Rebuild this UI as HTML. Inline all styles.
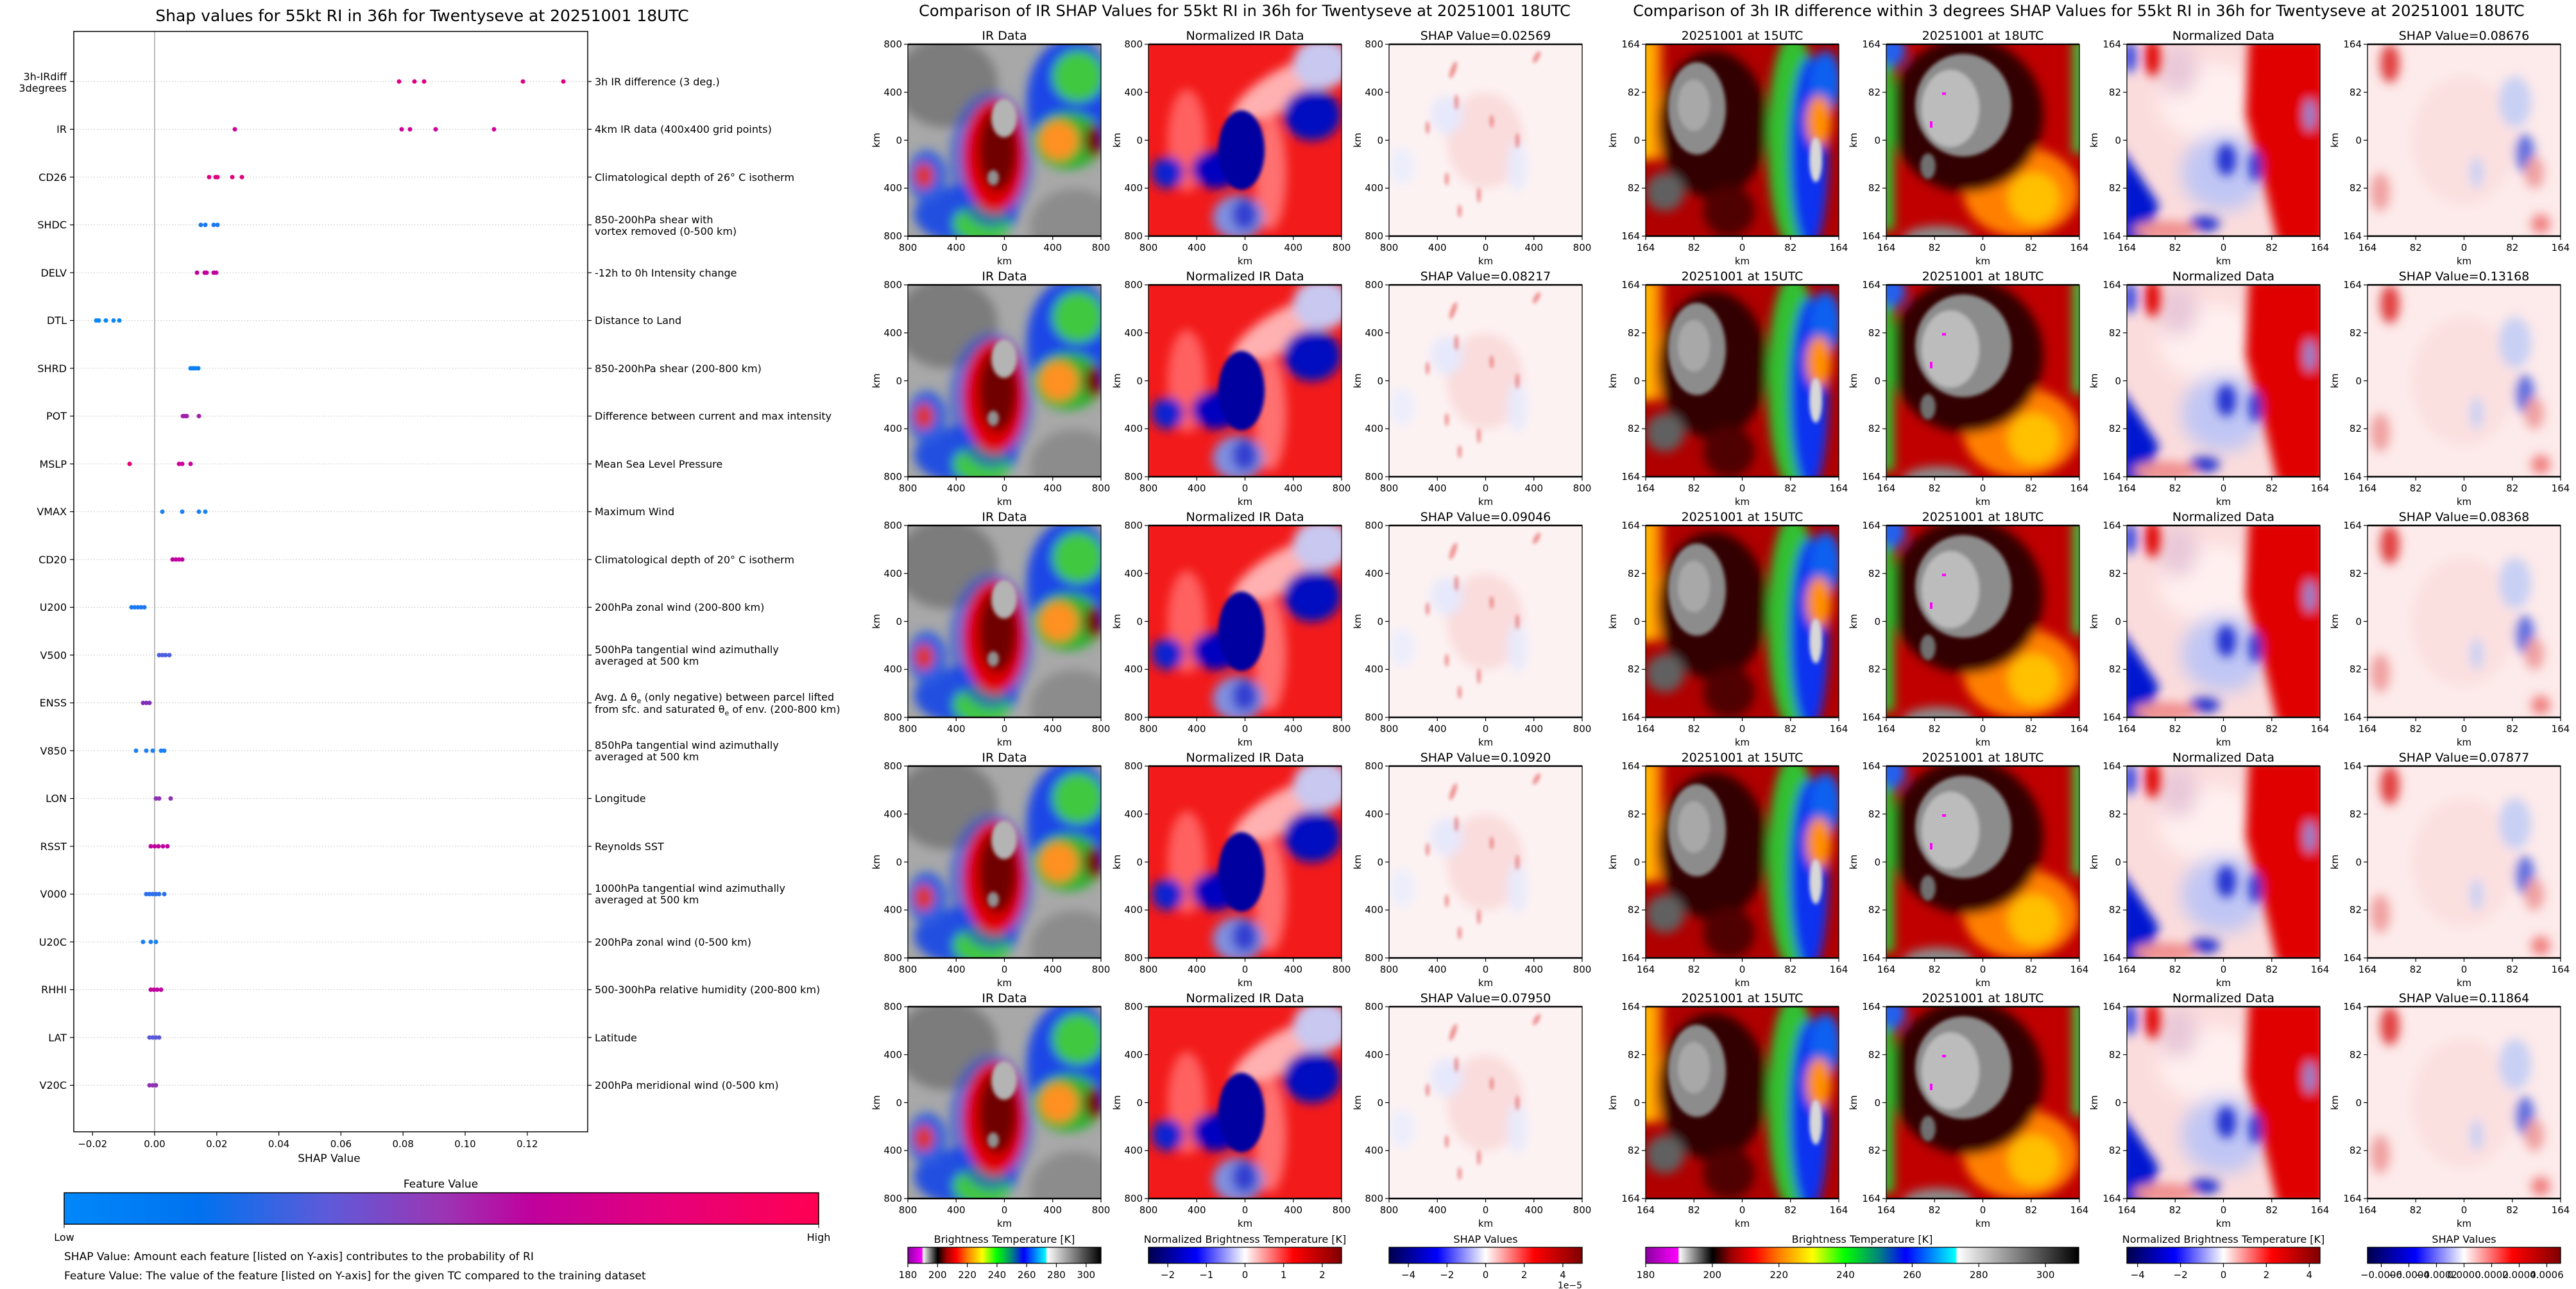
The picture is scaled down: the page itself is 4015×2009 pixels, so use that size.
<!DOCTYPE html>
<html><head><meta charset="utf-8"><style>
html,body{margin:0;padding:0;background:#fff;}
svg{display:block;font-family:"DejaVu Sans","Liberation Sans",sans-serif;}
</style></head><body>
<svg width="4015" height="2009" viewBox="0 0 4015 2009" xmlns="http://www.w3.org/2000/svg">
<defs>
<filter id="b3" x="-50%" y="-50%" width="200%" height="200%"><feGaussianBlur stdDeviation="3"/></filter>
<filter id="b8" x="-50%" y="-50%" width="200%" height="200%"><feGaussianBlur stdDeviation="8"/></filter>
<filter id="b14" x="-50%" y="-50%" width="200%" height="200%"><feGaussianBlur stdDeviation="14"/></filter>
<clipPath id="cp"><rect x="0" y="0" width="301" height="299"/></clipPath>
<linearGradient id="gShap" x1="0" x2="1" y1="0" y2="0">
<stop offset="0" stop-color="#0088fa"/><stop offset="0.18" stop-color="#0072ef"/><stop offset="0.35" stop-color="#5e5ad9"/><stop offset="0.5" stop-color="#9a36b4"/><stop offset="0.62" stop-color="#c0009d"/><stop offset="0.8" stop-color="#e6007a"/><stop offset="1" stop-color="#ff0052"/></linearGradient>
<linearGradient id="gBT" x1="0" x2="1" y1="0" y2="0">
<stop offset="0" stop-color="#8a00a0"/><stop offset="0.075" stop-color="#ff00ff"/><stop offset="0.077" stop-color="#ffffff"/><stop offset="0.154" stop-color="#000000"/><stop offset="0.2" stop-color="#a00000"/><stop offset="0.25" stop-color="#ff0000"/><stop offset="0.31" stop-color="#ff8000"/><stop offset="0.385" stop-color="#ffff00"/><stop offset="0.46" stop-color="#00ff00"/><stop offset="0.54" stop-color="#008080"/><stop offset="0.6" stop-color="#0000ff"/><stop offset="0.715" stop-color="#00ffff"/><stop offset="0.72" stop-color="#ffffff"/><stop offset="1" stop-color="#000000"/></linearGradient>
<linearGradient id="gSeis" x1="0" x2="1" y1="0" y2="0">
<stop offset="0" stop-color="#00004c"/><stop offset="0.25" stop-color="#0000ff"/><stop offset="0.5" stop-color="#ffffff"/><stop offset="0.75" stop-color="#ff0000"/><stop offset="1" stop-color="#7f0000"/></linearGradient>

<g id="gIR"><g clip-path="url(#cp)">
<rect width="301" height="299" fill="#a8a8a8"/>
<g filter="url(#b8)">
<ellipse cx="60" cy="60" rx="80" ry="70" fill="#7c7c7c"/>
<ellipse cx="260" cy="285" rx="70" ry="60" fill="#8c8c8c"/>
<ellipse cx="255" cy="90" rx="70" ry="100" fill="#1e46e6"/>
<ellipse cx="265" cy="50" rx="40" ry="40" fill="#40c840"/>
<ellipse cx="250" cy="150" rx="55" ry="45" fill="#30b030"/>
<ellipse cx="235" cy="150" rx="30" ry="30" fill="#ff9020"/>
<ellipse cx="290" cy="150" rx="15" ry="25" fill="#700000"/>
<ellipse cx="90" cy="265" rx="80" ry="45" fill="#2050e0"/>
<ellipse cx="115" cy="280" rx="45" ry="30" fill="#40c840"/>
<ellipse cx="30" cy="205" rx="30" ry="40" fill="#3060e0"/>
<ellipse cx="25" cy="205" rx="15" ry="20" fill="#e03000"/>
<ellipse cx="130" cy="180" rx="65" ry="105" fill="#1e46e6" opacity="0.6"/>
<ellipse cx="135" cy="175" rx="48" ry="88" fill="#e00000"/>
<ellipse cx="140" cy="165" rx="30" ry="65" fill="#700000"/>
</g>
<g filter="url(#b3)"><ellipse cx="150" cy="115" rx="20" ry="30" fill="#b4b4b4"/><ellipse cx="133" cy="208" rx="9" ry="12" fill="#909090"/></g>
</g></g>

<g id="gNIR"><g clip-path="url(#cp)">
<rect width="301" height="299" fill="#f21a1a"/>
<g filter="url(#b8)">
<ellipse cx="210" cy="70" rx="90" ry="30" fill="#ffb0b0" transform="rotate(-30 210 70)"/>
<ellipse cx="190" cy="200" rx="25" ry="90" fill="#ff7070"/>
<ellipse cx="60" cy="150" rx="30" ry="80" fill="#ff6060"/>
<ellipse cx="270" cy="30" rx="45" ry="40" fill="#c8c8f0"/>
<ellipse cx="255" cy="110" rx="45" ry="40" fill="#0010c0"/>
<ellipse cx="105" cy="195" rx="38" ry="30" fill="#0000c0"/>
<ellipse cx="30" cy="200" rx="25" ry="25" fill="#1020d0"/>
<ellipse cx="140" cy="270" rx="40" ry="35" fill="#8090e0"/>
<ellipse cx="150" cy="265" rx="20" ry="25" fill="#3040d0"/>
</g>
<g filter="url(#b3)"><ellipse cx="145" cy="165" rx="36" ry="62" fill="#0000a0"/></g>
</g></g>

<g id="gSM"><g clip-path="url(#cp)">
<rect width="301" height="299" fill="#fdf2f2"/>
<g filter="url(#b8)">
<ellipse cx="150" cy="150" rx="60" ry="75" fill="#fadcdc"/>
<ellipse cx="90" cy="110" rx="25" ry="30" fill="#e6e8fb"/>
<ellipse cx="200" cy="190" rx="15" ry="40" fill="#e8eafb"/>
<ellipse cx="20" cy="190" rx="20" ry="30" fill="#eceefc"/>
</g>
<g filter="url(#b3)" fill="#e04040" opacity="0.55">
<ellipse cx="100" cy="40" rx="4" ry="14" transform="rotate(20 100 40)"/>
<ellipse cx="230" cy="20" rx="4" ry="10" transform="rotate(30 230 20)"/>
<ellipse cx="105" cy="90" rx="3" ry="12"/>
<ellipse cx="160" cy="120" rx="3" ry="10"/>
<ellipse cx="60" cy="130" rx="3" ry="10"/>
<ellipse cx="200" cy="150" rx="3" ry="12"/>
<ellipse cx="90" cy="210" rx="3" ry="10"/>
<ellipse cx="140" cy="235" rx="3" ry="12"/>
<ellipse cx="110" cy="260" rx="3" ry="10"/>
</g>
</g></g>

<g id="gT15"><g clip-path="url(#cp)">
<rect width="301" height="299" fill="#b00000"/>
<g filter="url(#b8)">
<rect x="-10" y="-10" width="35" height="190" fill="#ff9000"/>
<rect x="-10" y="-10" width="15" height="190" fill="#ffd000"/>
<ellipse cx="105" cy="125" rx="85" ry="115" fill="#300000"/>
<ellipse cx="230" cy="150" rx="40" ry="170" fill="#30c030"/>
<ellipse cx="255" cy="170" rx="30" ry="150" fill="#1030f0"/>
<ellipse cx="280" cy="60" rx="25" ry="50" fill="#1060f0"/>
<ellipse cx="270" cy="120" rx="20" ry="40" fill="#ff9000"/>
<ellipse cx="30" cy="230" rx="30" ry="30" fill="#606060"/>
<ellipse cx="130" cy="260" rx="40" ry="40" fill="#500000"/>
</g>
<g filter="url(#b3)">
<ellipse cx="80" cy="100" rx="45" ry="72" fill="#8c8c8c"/>
<ellipse cx="75" cy="95" rx="25" ry="40" fill="#a8a8a8"/>
<ellipse cx="265" cy="180" rx="10" ry="35" fill="#d8d8d8"/>
</g>
</g></g>

<g id="gT18"><g clip-path="url(#cp)">
<rect width="301" height="299" fill="#c00000"/>
<g filter="url(#b8)">
<ellipse cx="210" cy="230" rx="90" ry="70" fill="#ff8000"/>
<ellipse cx="230" cy="240" rx="40" ry="40" fill="#ffc000"/>
<ellipse cx="125" cy="110" rx="120" ry="120" fill="#300000"/>
<rect x="-10" y="-10" width="22" height="300" fill="#30c030"/>
<rect x="290" y="-10" width="20" height="180" fill="#40c040"/>
<ellipse cx="10" cy="10" rx="20" ry="25" fill="#2060f0"/>
<ellipse cx="80" cy="305" rx="55" ry="22" fill="#8c8c8c"/>
</g>
<g filter="url(#b3)">
<ellipse cx="120" cy="95" rx="75" ry="80" fill="#8c8c8c"/>
<ellipse cx="100" cy="100" rx="45" ry="60" fill="#bcbcbc"/>
<ellipse cx="65" cy="190" rx="12" ry="20" fill="#707070"/>
</g>
<rect x="87" y="75" width="6" height="4" fill="#ff00ff"/>
<rect x="68" y="120" width="4" height="10" fill="#ff00ff"/>
</g></g>

<g id="gND"><g clip-path="url(#cp)">
<rect width="301" height="299" fill="#fbdcdc"/>
<g filter="url(#b14)">
<ellipse cx="130" cy="90" rx="80" ry="60" fill="#fff0f0"/>
<ellipse cx="150" cy="200" rx="65" ry="60" fill="#c0c6f4"/>
<ellipse cx="80" cy="40" rx="30" ry="40" fill="#e8c8d8"/>
</g>
<g filter="url(#b8)">
<polygon points="190,-10 310,-10 310,310 235,310 210,200 185,110" fill="#e00000"/>
<polygon points="-10,160 -10,310 30,310 50,250" fill="#0018d0"/>
<ellipse cx="40" cy="20" rx="12" ry="30" fill="#e00000"/>
<ellipse cx="5" cy="20" rx="10" ry="25" fill="#3040e0"/>
<ellipse cx="155" cy="180" rx="15" ry="25" fill="#2030d0"/>
<ellipse cx="200" cy="190" rx="10" ry="25" fill="#2030d0"/>
<ellipse cx="120" cy="280" rx="25" ry="12" fill="#2030d0"/>
<ellipse cx="60" cy="290" rx="50" ry="15" fill="#f09090"/>
<ellipse cx="285" cy="110" rx="8" ry="25" fill="#8090e0"/>
</g>
</g></g>

<g id="gSR"><g clip-path="url(#cp)">
<rect width="301" height="299" fill="#fdeaea"/>
<g filter="url(#b8)">
<ellipse cx="150" cy="150" rx="80" ry="100" fill="#fbe0e0"/>
<ellipse cx="230" cy="90" rx="25" ry="40" fill="#c8d0f4"/>
<ellipse cx="245" cy="170" rx="15" ry="30" fill="#6070e0"/>
<ellipse cx="260" cy="200" rx="15" ry="25" fill="#f0a0a0"/>
<ellipse cx="35" cy="30" rx="15" ry="30" fill="#e04040"/>
<ellipse cx="20" cy="230" rx="15" ry="30" fill="#f0a0a0"/>
<ellipse cx="170" cy="200" rx="10" ry="25" fill="#c8d0f4"/>
<ellipse cx="270" cy="280" rx="15" ry="15" fill="#f08080"/>
</g>
</g></g>

<g id="axM" font-size="15" fill="#000">
<rect x="0" y="0" width="301" height="299" fill="none" stroke="#000" stroke-width="1.3"/>
<line x1="0" y1="0" x2="301" y2="0" stroke="#000" stroke-width="2.5"/>
<line x1="0" y1="299" x2="301" y2="299" stroke="#000" stroke-width="2.5"/>
<g stroke="#000" stroke-width="1.2">
<line x1="-6" y1="0" x2="0" y2="0"/><line x1="-6" y1="74.75" x2="0" y2="74.75"/><line x1="-6" y1="149.5" x2="0" y2="149.5"/><line x1="-6" y1="224.25" x2="0" y2="224.25"/><line x1="-6" y1="299" x2="0" y2="299"/>
<line x1="0" y1="299" x2="0" y2="305"/><line x1="75.25" y1="299" x2="75.25" y2="305"/><line x1="150.5" y1="299" x2="150.5" y2="305"/><line x1="225.75" y1="299" x2="225.75" y2="305"/><line x1="301" y1="299" x2="301" y2="305"/>
</g>
<g text-anchor="end"><text x="-9" y="5">800</text><text x="-9" y="80">400</text><text x="-9" y="155">0</text><text x="-9" y="229">400</text><text x="-9" y="304">800</text></g>
<g text-anchor="middle"><text x="0" y="322">800</text><text x="75.25" y="322">400</text><text x="150.5" y="322">0</text><text x="225.75" y="322">400</text><text x="301" y="322">800</text>
<text x="150.5" y="343">km</text>
<text transform="translate(-44 149.5) rotate(-90)">km</text></g>
</g>
<g id="axR" font-size="15" fill="#000">
<rect x="0" y="0" width="301" height="299" fill="none" stroke="#000" stroke-width="1.3"/>
<line x1="0" y1="0" x2="301" y2="0" stroke="#000" stroke-width="2.5"/>
<line x1="0" y1="299" x2="301" y2="299" stroke="#000" stroke-width="2.5"/>
<g stroke="#000" stroke-width="1.2">
<line x1="-6" y1="0" x2="0" y2="0"/><line x1="-6" y1="74.75" x2="0" y2="74.75"/><line x1="-6" y1="149.5" x2="0" y2="149.5"/><line x1="-6" y1="224.25" x2="0" y2="224.25"/><line x1="-6" y1="299" x2="0" y2="299"/>
<line x1="0" y1="299" x2="0" y2="305"/><line x1="75.25" y1="299" x2="75.25" y2="305"/><line x1="150.5" y1="299" x2="150.5" y2="305"/><line x1="225.75" y1="299" x2="225.75" y2="305"/><line x1="301" y1="299" x2="301" y2="305"/>
</g>
<g text-anchor="end"><text x="-9" y="5">164</text><text x="-9" y="80">82</text><text x="-9" y="155">0</text><text x="-9" y="229">82</text><text x="-9" y="304">164</text></g>
<g text-anchor="middle"><text x="0" y="322">164</text><text x="75.25" y="322">82</text><text x="150.5" y="322">0</text><text x="225.75" y="322">82</text><text x="301" y="322">164</text>
<text x="150.5" y="343">km</text>
<text transform="translate(-46 149.5) rotate(-90)">km</text></g>
</g>
</defs>

<!-- ============ LEFT SHAP SUMMARY ============ -->
<text x="658" y="33" font-size="25" text-anchor="middle">Shap values for 55kt RI in 36h for Twentyseve at 20251001 18UTC</text>
<g stroke="#bbb" stroke-width="1" stroke-dasharray="1.5 3">
<line x1="115" x2="916" y1="127" y2="127"/><line x1="115" x2="916" y1="201.5" y2="201.5"/><line x1="115" x2="916" y1="276" y2="276"/><line x1="115" x2="916" y1="350.5" y2="350.5"/><line x1="115" x2="916" y1="425" y2="425"/><line x1="115" x2="916" y1="499.5" y2="499.5"/><line x1="115" x2="916" y1="574" y2="574"/><line x1="115" x2="916" y1="648.5" y2="648.5"/><line x1="115" x2="916" y1="723" y2="723"/><line x1="115" x2="916" y1="797.5" y2="797.5"/><line x1="115" x2="916" y1="872" y2="872"/><line x1="115" x2="916" y1="946.5" y2="946.5"/><line x1="115" x2="916" y1="1021" y2="1021"/><line x1="115" x2="916" y1="1095.5" y2="1095.5"/><line x1="115" x2="916" y1="1170" y2="1170"/><line x1="115" x2="916" y1="1244.5" y2="1244.5"/><line x1="115" x2="916" y1="1319" y2="1319"/><line x1="115" x2="916" y1="1393.5" y2="1393.5"/><line x1="115" x2="916" y1="1468" y2="1468"/><line x1="115" x2="916" y1="1542.5" y2="1542.5"/><line x1="115" x2="916" y1="1617" y2="1617"/><line x1="115" x2="916" y1="1691.5" y2="1691.5"/>
</g>
<line x1="241" y1="49" x2="241" y2="1764" stroke="#999" stroke-width="1.3"/>
<rect x="115" y="49" width="801" height="1715" fill="none" stroke="#000" stroke-width="1.5"/>
<g stroke="#000" stroke-width="1.2">
<line x1="109" x2="115" y1="127" y2="127"/><line x1="109" x2="115" y1="201.5" y2="201.5"/><line x1="109" x2="115" y1="276" y2="276"/><line x1="109" x2="115" y1="350.5" y2="350.5"/><line x1="109" x2="115" y1="425" y2="425"/><line x1="109" x2="115" y1="499.5" y2="499.5"/><line x1="109" x2="115" y1="574" y2="574"/><line x1="109" x2="115" y1="648.5" y2="648.5"/><line x1="109" x2="115" y1="723" y2="723"/><line x1="109" x2="115" y1="797.5" y2="797.5"/><line x1="109" x2="115" y1="872" y2="872"/><line x1="109" x2="115" y1="946.5" y2="946.5"/><line x1="109" x2="115" y1="1021" y2="1021"/><line x1="109" x2="115" y1="1095.5" y2="1095.5"/><line x1="109" x2="115" y1="1170" y2="1170"/><line x1="109" x2="115" y1="1244.5" y2="1244.5"/><line x1="109" x2="115" y1="1319" y2="1319"/><line x1="109" x2="115" y1="1393.5" y2="1393.5"/><line x1="109" x2="115" y1="1468" y2="1468"/><line x1="109" x2="115" y1="1542.5" y2="1542.5"/><line x1="109" x2="115" y1="1617" y2="1617"/><line x1="109" x2="115" y1="1691.5" y2="1691.5"/>
<line x1="916" x2="922" y1="127" y2="127"/><line x1="916" x2="922" y1="201.5" y2="201.5"/><line x1="916" x2="922" y1="276" y2="276"/><line x1="916" x2="922" y1="350.5" y2="350.5"/><line x1="916" x2="922" y1="425" y2="425"/><line x1="916" x2="922" y1="499.5" y2="499.5"/><line x1="916" x2="922" y1="574" y2="574"/><line x1="916" x2="922" y1="648.5" y2="648.5"/><line x1="916" x2="922" y1="723" y2="723"/><line x1="916" x2="922" y1="797.5" y2="797.5"/><line x1="916" x2="922" y1="872" y2="872"/><line x1="916" x2="922" y1="946.5" y2="946.5"/><line x1="916" x2="922" y1="1021" y2="1021"/><line x1="916" x2="922" y1="1095.5" y2="1095.5"/><line x1="916" x2="922" y1="1170" y2="1170"/><line x1="916" x2="922" y1="1244.5" y2="1244.5"/><line x1="916" x2="922" y1="1319" y2="1319"/><line x1="916" x2="922" y1="1393.5" y2="1393.5"/><line x1="916" x2="922" y1="1468" y2="1468"/><line x1="916" x2="922" y1="1542.5" y2="1542.5"/><line x1="916" x2="922" y1="1617" y2="1617"/><line x1="916" x2="922" y1="1691.5" y2="1691.5"/>
<line x1="144.2" x2="144.2" y1="1764" y2="1770"/><line x1="241" x2="241" y1="1764" y2="1770"/><line x1="337.8" x2="337.8" y1="1764" y2="1770"/><line x1="434.6" x2="434.6" y1="1764" y2="1770"/><line x1="531.4" x2="531.4" y1="1764" y2="1770"/><line x1="628.2" x2="628.2" y1="1764" y2="1770"/><line x1="725" x2="725" y1="1764" y2="1770"/><line x1="821.8" x2="821.8" y1="1764" y2="1770"/>
</g>
<g font-size="16" text-anchor="end">
<text x="104" y="125">3h-IRdiff</text><text x="104" y="143">3degrees</text>
<text x="104" y="207">IR</text><text x="104" y="282">CD26</text><text x="104" y="356">SHDC</text><text x="104" y="431">DELV</text><text x="104" y="505">DTL</text><text x="104" y="580">SHRD</text><text x="104" y="654">POT</text><text x="104" y="729">MSLP</text><text x="104" y="803">VMAX</text><text x="104" y="878">CD20</text><text x="104" y="952">U200</text><text x="104" y="1027">V500</text><text x="104" y="1101">ENSS</text><text x="104" y="1176">V850</text><text x="104" y="1250">LON</text><text x="104" y="1325">RSST</text><text x="104" y="1399">V000</text><text x="104" y="1474">U20C</text><text x="104" y="1548">RHHI</text><text x="104" y="1623">LAT</text><text x="104" y="1697">V20C</text>
</g>
<g font-size="16">
<text x="927" y="133">3h IR difference (3 deg.)</text>
<text x="927" y="207">4km IR data (400x400 grid points)</text>
<text x="927" y="282">Climatological depth of 26° C isotherm</text>
<text x="927" y="348">850-200hPa shear with</text><text x="927" y="366">vortex removed (0-500 km)</text>
<text x="927" y="431">-12h to 0h Intensity change</text>
<text x="927" y="505">Distance to Land</text>
<text x="927" y="580">850-200hPa shear (200-800 km)</text>
<text x="927" y="654">Difference between current and max intensity</text>
<text x="927" y="729">Mean Sea Level Pressure</text>
<text x="927" y="803">Maximum Wind</text>
<text x="927" y="878">Climatological depth of 20° C isotherm</text>
<text x="927" y="952">200hPa zonal wind (200-800 km)</text>
<text x="927" y="1018">500hPa tangential wind azimuthally</text><text x="927" y="1036">averaged at 500 km</text>
<text x="927" y="1092">Avg. Δ θ<tspan font-size="11" dy="4">e</tspan><tspan dy="-4"> (only negative) between parcel lifted</tspan></text><text x="927" y="1111">from sfc. and saturated θ<tspan font-size="11" dy="4">e</tspan><tspan dy="-4"> of env. (200-800 km)</tspan></text>
<text x="927" y="1167">850hPa tangential wind azimuthally</text><text x="927" y="1185">averaged at 500 km</text>
<text x="927" y="1250">Longitude</text>
<text x="927" y="1325">Reynolds SST</text>
<text x="927" y="1390">1000hPa tangential wind azimuthally</text><text x="927" y="1408">averaged at 500 km</text>
<text x="927" y="1474">200hPa zonal wind (0-500 km)</text>
<text x="927" y="1548">500-300hPa relative humidity (200-800 km)</text>
<text x="927" y="1623">Latitude</text>
<text x="927" y="1697">200hPa meridional wind (0-500 km)</text>
</g>
<g font-size="15" text-anchor="middle">
<text x="144.2" y="1788">−0.02</text><text x="241" y="1788">0.00</text><text x="337.8" y="1788">0.02</text><text x="434.6" y="1788">0.04</text><text x="531.4" y="1788">0.06</text><text x="628.2" y="1788">0.08</text><text x="725" y="1788">0.10</text><text x="821.8" y="1788">0.12</text>
</g>
<text x="513" y="1811" font-size="17" text-anchor="middle">SHAP Value</text>
<!-- dots -->
<g>
<g fill="#e0007f"><circle cx="622" cy="127" r="3.5"/><circle cx="646" cy="127" r="3.5"/><circle cx="661" cy="127" r="3.5"/><circle cx="815" cy="127" r="3.5"/><circle cx="878" cy="127" r="3.5"/></g>
<g fill="#d0009a"><circle cx="366" cy="201.5" r="3.5"/><circle cx="626" cy="201.5" r="3.5"/><circle cx="639" cy="201.5" r="3.5"/><circle cx="679" cy="201.5" r="3.5"/><circle cx="770" cy="201.5" r="3.5"/></g>
<g fill="#e0007f"><circle cx="326" cy="276" r="3.5"/><circle cx="336" cy="276" r="3.5"/><circle cx="339" cy="276" r="3.5"/><circle cx="362" cy="276" r="3.5"/><circle cx="377" cy="276" r="3.5"/></g>
<g fill="#1a78f0"><circle cx="313" cy="350.5" r="3.5"/><circle cx="320" cy="350.5" r="3.5"/><circle cx="333" cy="350.5" r="3.5"/><circle cx="339" cy="350.5" r="3.5"/></g>
<g fill="#c0009f"><circle cx="307" cy="425" r="3.5"/><circle cx="319" cy="425" r="3.5"/><circle cx="322" cy="425" r="3.5"/><circle cx="333" cy="425" r="3.5"/><circle cx="337" cy="425" r="3.5"/></g>
<g fill="#0a86f6"><circle cx="150" cy="499.5" r="3.5"/><circle cx="154" cy="499.5" r="3.5"/><circle cx="165" cy="499.5" r="3.5"/><circle cx="177" cy="499.5" r="3.5"/><circle cx="186" cy="499.5" r="3.5"/></g>
<g fill="#0a80f4"><circle cx="297" cy="574" r="3.5"/><circle cx="301" cy="574" r="3.5"/><circle cx="305" cy="574" r="3.5"/><circle cx="309" cy="574" r="3.5"/></g>
<g fill="#a020a8"><circle cx="285" cy="648.5" r="3.5"/><circle cx="288" cy="648.5" r="3.5"/><circle cx="291" cy="648.5" r="3.5"/><circle cx="310" cy="648.5" r="3.5"/></g>
<g fill="#d0009a"><circle cx="202" cy="723" r="3.5" fill="#e8006e"/><circle cx="279" cy="723" r="3.5"/><circle cx="284" cy="723" r="3.5"/><circle cx="297" cy="723" r="3.5"/></g>
<g fill="#1a80f2"><circle cx="253" cy="797.5" r="3.5"/><circle cx="284" cy="797.5" r="3.5"/><circle cx="310" cy="797.5" r="3.5"/><circle cx="320" cy="797.5" r="3.5"/></g>
<g fill="#c0009f"><circle cx="269" cy="872" r="3.5"/><circle cx="274" cy="872" r="3.5"/><circle cx="279" cy="872" r="3.5"/><circle cx="284" cy="872" r="3.5"/></g>
<g fill="#1a7af0"><circle cx="205" cy="946.5" r="3.5"/><circle cx="210" cy="946.5" r="3.5"/><circle cx="215" cy="946.5" r="3.5"/><circle cx="220" cy="946.5" r="3.5"/><circle cx="225" cy="946.5" r="3.5"/></g>
<g fill="#4a60e0"><circle cx="248" cy="1021" r="3.5"/><circle cx="253" cy="1021" r="3.5"/><circle cx="258" cy="1021" r="3.5"/><circle cx="264" cy="1021" r="3.5"/></g>
<g fill="#8030b8"><circle cx="223" cy="1095.5" r="3.5"/><circle cx="228" cy="1095.5" r="3.5"/><circle cx="233" cy="1095.5" r="3.5"/></g>
<g fill="#1a80f2"><circle cx="212" cy="1170" r="3.5"/><circle cx="228" cy="1170" r="3.5"/><circle cx="238" cy="1170" r="3.5"/><circle cx="251" cy="1170" r="3.5"/><circle cx="256" cy="1170" r="3.5"/></g>
<g fill="#9030b0"><circle cx="243" cy="1244.5" r="3.5"/><circle cx="248" cy="1244.5" r="3.5"/><circle cx="266" cy="1244.5" r="3.5"/></g>
<g fill="#c0009f"><circle cx="235" cy="1319" r="3.5"/><circle cx="241" cy="1319" r="3.5"/><circle cx="247" cy="1319" r="3.5"/><circle cx="254" cy="1319" r="3.5"/><circle cx="261" cy="1319" r="3.5"/></g>
<g fill="#2a70ec"><circle cx="228" cy="1393.5" r="3.5"/><circle cx="233" cy="1393.5" r="3.5"/><circle cx="238" cy="1393.5" r="3.5"/><circle cx="243" cy="1393.5" r="3.5"/><circle cx="248" cy="1393.5" r="3.5"/><circle cx="256" cy="1393.5" r="3.5"/></g>
<g fill="#1a80f2"><circle cx="223" cy="1468" r="3.5"/><circle cx="235" cy="1468" r="3.5"/><circle cx="243" cy="1468" r="3.5"/></g>
<g fill="#c0009f"><circle cx="235" cy="1542.5" r="3.5"/><circle cx="240" cy="1542.5" r="3.5"/><circle cx="245" cy="1542.5" r="3.5"/><circle cx="251" cy="1542.5" r="3.5"/></g>
<g fill="#5a58d8"><circle cx="233" cy="1617" r="3.5"/><circle cx="238" cy="1617" r="3.5"/><circle cx="243" cy="1617" r="3.5"/><circle cx="248" cy="1617" r="3.5"/></g>
<g fill="#9030b0"><circle cx="233" cy="1691.5" r="3.5"/><circle cx="238" cy="1691.5" r="3.5"/><circle cx="243" cy="1691.5" r="3.5"/></g>
</g>
<!-- feature colorbar -->
<text x="687" y="1851" font-size="17" text-anchor="middle">Feature Value</text>
<rect x="100" y="1859" width="1176" height="49" fill="url(#gShap)" stroke="#000" stroke-width="1.5"/>
<line x1="100" y1="1908" x2="100" y2="1914" stroke="#000"/><line x1="1276" y1="1908" x2="1276" y2="1914" stroke="#000"/>
<text x="100" y="1934" font-size="16" text-anchor="middle">Low</text>
<text x="1276" y="1934" font-size="16" text-anchor="middle">High</text>
<text x="100" y="1964" font-size="17">SHAP Value: Amount each feature [listed on Y-axis] contributes to the probability of RI</text>
<text x="100" y="1994" font-size="17">Feature Value: The value of the feature [listed on Y-axis] for the given TC compared to the training dataset</text>

<!-- ============ MIDDLE BLOCK ============ -->
<text x="1940" y="25" font-size="24" text-anchor="middle">Comparison of IR SHAP Values for 55kt RI in 36h for Twentyseve at 20251001 18UTC</text>
<g font-size="19" text-anchor="middle">
<text x="1565.5" y="62">IR Data</text><text x="1940.5" y="62">Normalized IR Data</text><text x="2315.5" y="62">SHAP Value=0.02569</text>
<text x="1565.5" y="437">IR Data</text><text x="1940.5" y="437">Normalized IR Data</text><text x="2315.5" y="437">SHAP Value=0.08217</text>
<text x="1565.5" y="812">IR Data</text><text x="1940.5" y="812">Normalized IR Data</text><text x="2315.5" y="812">SHAP Value=0.09046</text>
<text x="1565.5" y="1187">IR Data</text><text x="1940.5" y="1187">Normalized IR Data</text><text x="2315.5" y="1187">SHAP Value=0.10920</text>
<text x="1565.5" y="1562">IR Data</text><text x="1940.5" y="1562">Normalized IR Data</text><text x="2315.5" y="1562">SHAP Value=0.07950</text>
</g>
<g transform="translate(1415 69)"><use href="#gIR"/><use href="#axM"/></g>
<g transform="translate(1790 69)"><use href="#gNIR"/><use href="#axM"/></g>
<g transform="translate(2165 69)"><use href="#gSM"/><use href="#axM"/></g>
<g transform="translate(1415 444)"><use href="#gIR"/><use href="#axM"/></g>
<g transform="translate(1790 444)"><use href="#gNIR"/><use href="#axM"/></g>
<g transform="translate(2165 444)"><use href="#gSM"/><use href="#axM"/></g>
<g transform="translate(1415 819)"><use href="#gIR"/><use href="#axM"/></g>
<g transform="translate(1790 819)"><use href="#gNIR"/><use href="#axM"/></g>
<g transform="translate(2165 819)"><use href="#gSM"/><use href="#axM"/></g>
<g transform="translate(1415 1194)"><use href="#gIR"/><use href="#axM"/></g>
<g transform="translate(1790 1194)"><use href="#gNIR"/><use href="#axM"/></g>
<g transform="translate(2165 1194)"><use href="#gSM"/><use href="#axM"/></g>
<g transform="translate(1415 1569)"><use href="#gIR"/><use href="#axM"/></g>
<g transform="translate(1790 1569)"><use href="#gNIR"/><use href="#axM"/></g>
<g transform="translate(2165 1569)"><use href="#gSM"/><use href="#axM"/></g>

<!-- ============ RIGHT BLOCK ============ -->
<text x="3240" y="25" font-size="24" text-anchor="middle">Comparison of 3h IR difference within 3 degrees SHAP Values for 55kt RI in 36h for Twentyseve at 20251001 18UTC</text>
<g font-size="19" text-anchor="middle">
<text x="2715.5" y="62">20251001 at 15UTC</text><text x="3090.5" y="62">20251001 at 18UTC</text><text x="3465.5" y="62">Normalized Data</text><text x="3840.5" y="62">SHAP Value=0.08676</text>
<text x="2715.5" y="437">20251001 at 15UTC</text><text x="3090.5" y="437">20251001 at 18UTC</text><text x="3465.5" y="437">Normalized Data</text><text x="3840.5" y="437">SHAP Value=0.13168</text>
<text x="2715.5" y="812">20251001 at 15UTC</text><text x="3090.5" y="812">20251001 at 18UTC</text><text x="3465.5" y="812">Normalized Data</text><text x="3840.5" y="812">SHAP Value=0.08368</text>
<text x="2715.5" y="1187">20251001 at 15UTC</text><text x="3090.5" y="1187">20251001 at 18UTC</text><text x="3465.5" y="1187">Normalized Data</text><text x="3840.5" y="1187">SHAP Value=0.07877</text>
<text x="2715.5" y="1562">20251001 at 15UTC</text><text x="3090.5" y="1562">20251001 at 18UTC</text><text x="3465.5" y="1562">Normalized Data</text><text x="3840.5" y="1562">SHAP Value=0.11864</text>
</g>
<g transform="translate(2565 69)"><use href="#gT15"/><use href="#axR"/></g>
<g transform="translate(2940 69)"><use href="#gT18"/><use href="#axR"/></g>
<g transform="translate(3315 69)"><use href="#gND"/><use href="#axR"/></g>
<g transform="translate(3690 69)"><use href="#gSR"/><use href="#axR"/></g>
<g transform="translate(2565 444)"><use href="#gT15"/><use href="#axR"/></g>
<g transform="translate(2940 444)"><use href="#gT18"/><use href="#axR"/></g>
<g transform="translate(3315 444)"><use href="#gND"/><use href="#axR"/></g>
<g transform="translate(3690 444)"><use href="#gSR"/><use href="#axR"/></g>
<g transform="translate(2565 819)"><use href="#gT15"/><use href="#axR"/></g>
<g transform="translate(2940 819)"><use href="#gT18"/><use href="#axR"/></g>
<g transform="translate(3315 819)"><use href="#gND"/><use href="#axR"/></g>
<g transform="translate(3690 819)"><use href="#gSR"/><use href="#axR"/></g>
<g transform="translate(2565 1194)"><use href="#gT15"/><use href="#axR"/></g>
<g transform="translate(2940 1194)"><use href="#gT18"/><use href="#axR"/></g>
<g transform="translate(3315 1194)"><use href="#gND"/><use href="#axR"/></g>
<g transform="translate(3690 1194)"><use href="#gSR"/><use href="#axR"/></g>
<g transform="translate(2565 1569)"><use href="#gT15"/><use href="#axR"/></g>
<g transform="translate(2940 1569)"><use href="#gT18"/><use href="#axR"/></g>
<g transform="translate(3315 1569)"><use href="#gND"/><use href="#axR"/></g>
<g transform="translate(3690 1569)"><use href="#gSR"/><use href="#axR"/></g>

<!-- ============ COLORBARS ============ -->
<g font-size="16" text-anchor="middle">
<text x="1565.5" y="1937">Brightness Temperature [K]</text>
<text x="1940.5" y="1937">Normalized Brightness Temperature [K]</text>
<text x="2315.5" y="1937">SHAP Values</text>
<text x="2902.5" y="1937">Brightness Temperature [K]</text>
<text x="3465.5" y="1937">Normalized Brightness Temperature [K]</text>
<text x="3840.5" y="1937">SHAP Values</text>
</g>
<g stroke="#000" stroke-width="1.3">
<rect x="1415" y="1944" width="301" height="25" fill="url(#gBT)"/>
<rect x="1790" y="1944" width="301" height="25" fill="url(#gSeis)"/>
<rect x="2165" y="1944" width="301" height="25" fill="url(#gSeis)"/>
<rect x="2565" y="1944" width="675" height="25" fill="url(#gBT)"/>
<rect x="3315" y="1944" width="301" height="25" fill="url(#gSeis)"/>
<rect x="3690" y="1944" width="301" height="25" fill="url(#gSeis)"/>
</g>
<g stroke="#000" stroke-width="1.2">
<line x1="1415" x2="1415" y1="1969" y2="1975"/><line x1="1461.3" x2="1461.3" y1="1969" y2="1975"/><line x1="1507.6" x2="1507.6" y1="1969" y2="1975"/><line x1="1553.9" x2="1553.9" y1="1969" y2="1975"/><line x1="1600.2" x2="1600.2" y1="1969" y2="1975"/><line x1="1646.5" x2="1646.5" y1="1969" y2="1975"/><line x1="1692.8" x2="1692.8" y1="1969" y2="1975"/>
<line x1="1820.1" x2="1820.1" y1="1969" y2="1975"/><line x1="1880.3" x2="1880.3" y1="1969" y2="1975"/><line x1="1940.5" x2="1940.5" y1="1969" y2="1975"/><line x1="2000.7" x2="2000.7" y1="1969" y2="1975"/><line x1="2060.9" x2="2060.9" y1="1969" y2="1975"/>
<line x1="2195.1" x2="2195.1" y1="1969" y2="1975"/><line x1="2255.3" x2="2255.3" y1="1969" y2="1975"/><line x1="2315.5" x2="2315.5" y1="1969" y2="1975"/><line x1="2375.7" x2="2375.7" y1="1969" y2="1975"/><line x1="2435.9" x2="2435.9" y1="1969" y2="1975"/>
<line x1="2565" x2="2565" y1="1969" y2="1975"/><line x1="2668.8" x2="2668.8" y1="1969" y2="1975"/><line x1="2772.7" x2="2772.7" y1="1969" y2="1975"/><line x1="2876.5" x2="2876.5" y1="1969" y2="1975"/><line x1="2980.4" x2="2980.4" y1="1969" y2="1975"/><line x1="3084.2" x2="3084.2" y1="1969" y2="1975"/><line x1="3188.1" x2="3188.1" y1="1969" y2="1975"/>
<line x1="3331.7" x2="3331.7" y1="1969" y2="1975"/><line x1="3398.6" x2="3398.6" y1="1969" y2="1975"/><line x1="3465.5" x2="3465.5" y1="1969" y2="1975"/><line x1="3532.4" x2="3532.4" y1="1969" y2="1975"/><line x1="3599.3" x2="3599.3" y1="1969" y2="1975"/>
<line x1="3711.5" x2="3711.5" y1="1969" y2="1975"/><line x1="3754.5" x2="3754.5" y1="1969" y2="1975"/><line x1="3797.5" x2="3797.5" y1="1969" y2="1975"/><line x1="3840.5" x2="3840.5" y1="1969" y2="1975"/><line x1="3883.5" x2="3883.5" y1="1969" y2="1975"/><line x1="3926.5" x2="3926.5" y1="1969" y2="1975"/><line x1="3969.5" x2="3969.5" y1="1969" y2="1975"/>
</g>
<g font-size="15" text-anchor="middle">
<text x="1415" y="1992">180</text><text x="1461.3" y="1992">200</text><text x="1507.6" y="1992">220</text><text x="1553.9" y="1992">240</text><text x="1600.2" y="1992">260</text><text x="1646.5" y="1992">280</text><text x="1692.8" y="1992">300</text>
<text x="1820.1" y="1992">−2</text><text x="1880.3" y="1992">−1</text><text x="1940.5" y="1992">0</text><text x="2000.7" y="1992">1</text><text x="2060.9" y="1992">2</text>
<text x="2195.1" y="1992">−4</text><text x="2255.3" y="1992">−2</text><text x="2315.5" y="1992">0</text><text x="2375.7" y="1992">2</text><text x="2435.9" y="1992">4</text>
<text x="2565" y="1992">180</text><text x="2668.8" y="1992">200</text><text x="2772.7" y="1992">220</text><text x="2876.5" y="1992">240</text><text x="2980.4" y="1992">260</text><text x="3084.2" y="1992">280</text><text x="3188.1" y="1992">300</text>
<text x="3331.7" y="1992">−4</text><text x="3398.6" y="1992">−2</text><text x="3465.5" y="1992">0</text><text x="3532.4" y="1992">2</text><text x="3599.3" y="1992">4</text>
<text x="3711.5" y="1992">−0.0006</text><text x="3754.5" y="1992">−0.0004</text><text x="3797.5" y="1992">−0.0002</text><text x="3840.5" y="1992">0.0000</text><text x="3883.5" y="1992">0.0002</text><text x="3926.5" y="1992">0.0004</text><text x="3969.5" y="1992">0.0006</text>
</g>
<text x="2466" y="2008" font-size="14" text-anchor="end">1e−5</text>
</svg>
</body></html>
